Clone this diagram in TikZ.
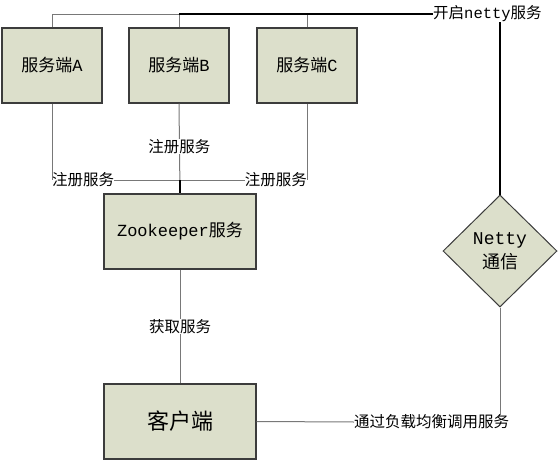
\documentclass[tikz,border=0pt]{standalone}
\usepackage{fontspec}
\setmainfont{Noto Sans CJK SC}
\newfontfamily\lat{Liberation Mono}
\usetikzlibrary{shapes.geometric}
\definecolor{boxfill}{RGB}{220,223,203}
\definecolor{boxline}{RGB}{60,60,60}
\definecolor{wirecol}{RGB}{120,120,120}

\begin{document}
\begin{tikzpicture}[x=1pt,y=-1pt,
  box/.style={draw=boxline, line width=1.2pt, fill=boxfill, minimum width=100pt,
    minimum height=75pt, inner sep=0pt, font=\fontsize{17}{20}\selectfont},
  bigbox/.style={box, minimum width=152pt},
  lbl/.style={inner sep=0pt, fill=white, font=\fontsize{15.5}{18}\selectfont},
  wire/.style={draw=wirecol, line width=1pt},
  bold wire/.style={draw=black, line width=1.4pt}]

\useasboundingbox (0,0) rectangle (558,461);

\node[box] (srvA) at (52,65.5) {服务端{\lat A}};
\node[box] (srvB) at (179,65.5) {服务端{\lat B}};
\node[box] (srvC) at (307,65.5) {服务端{\lat C}};
\node[bigbox] (zk) at (180,231.5) {{\lat Zookeeper}服务};
\node[bigbox, font=\fontsize{22}{26}\selectfont] (client) at (180,421.5) {客户端};
\node[diamond, draw=boxline, fill=boxfill, line width=1pt, minimum width=114pt,
  minimum height=112pt, inner sep=0pt, align=center,
  font=\fontsize{18}{24}\selectfont] (netty) at (500,251) {{\lat Netty}\\通信};

\node[lbl, anchor=west] (open) at (433,14) {开启{\lat netty}服务};
\node[lbl, anchor=west] (regA) at (52,180) {注册服务};
\node[lbl, anchor=east] (regC) at (307,180) {注册服务};
\node[lbl, anchor=west] (call) at (354,422) {通过负载均衡调用服务};

\draw[wire] (srvA.north) |- (open.west);
\draw[wire] (srvB.north) |- (open.west);
\draw[wire] (srvC.north) |- (open.west);
\draw[bold wire] (srvB.north |- open.west) -- (open.west);
\draw[bold wire] (open.south -| netty.north) -- (netty.north);

\draw[wire] (srvA.south) -- (regA.west);
\draw[wire] (regA.east) -- (regC.west);
\draw[wire] (srvC.south) -- (regC.east);
\draw[wire] (srvB.south) -- (zk.north) node[lbl, pos=0.48] (regB) {注册服务};
\draw[bold wire] (regA.east -| zk.north) -- (zk.north);

\draw[wire] (zk.south) -- (client.north) node[lbl, midway] (fetch) {获取服务};
\draw[wire] (client.east) -- (call.west);
\draw[wire] (netty.south) -- (netty.south |- call.north);

\end{tikzpicture}
\end{document}
